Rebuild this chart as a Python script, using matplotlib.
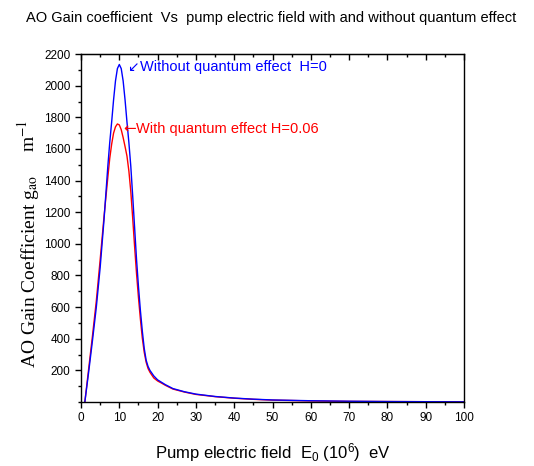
import matplotlib
matplotlib.use("Agg")
import matplotlib.pyplot as plt
from matplotlib.ticker import MultipleLocator

plt.rcParams['font.family'] = ['Liberation Sans', 'DejaVu Sans']
plt.rcParams['mathtext.fontset'] = 'custom'
plt.rcParams['mathtext.rm'] = 'Liberation Sans'
plt.rcParams['mathtext.it'] = 'Liberation Sans:italic'

# pump field E0 (1e6) and gain values
E_blue = [1, 2, 3, 4, 5, 6, 7, 7.5, 8, 8.5, 9, 9.5, 10, 10.5, 11, 11.5, 12,
          12.5, 13, 13.5, 14, 14.5, 15, 15.5, 16, 16.5, 17, 17.5, 18, 19, 20,
          21, 22, 24, 27, 30, 35, 40, 45, 50, 60, 70, 80, 90, 100]
g_blue = [0, 190, 390, 600, 850, 1150, 1490, 1640, 1770, 1910, 2030, 2108,
          2134, 2108, 2030, 1910, 1770, 1640, 1490, 1300, 1100, 900, 730, 580,
          450, 340, 265, 225, 200, 165, 140, 125, 110, 85, 65, 50, 35, 25, 18,
          13, 8, 5, 3, 2, 1]

E_red = [1, 2, 3, 4, 5, 6, 7, 7.5, 8, 8.5, 9, 9.5, 10, 10.5, 11, 11.5, 12,
         12.5, 13, 13.5, 14, 14.5, 15, 15.5, 16, 16.5, 17, 17.5, 18, 19, 20,
         21, 22, 24, 27, 30, 35, 40, 45, 50, 60, 70, 80, 90, 100]
g_red = [0, 210, 420, 640, 900, 1170, 1420, 1540, 1630, 1700, 1740, 1758,
         1752, 1722, 1672, 1615, 1555, 1460, 1330, 1160, 980, 810, 660, 525,
         405, 315, 252, 212, 188, 152, 133, 120, 106, 82, 63, 48, 34, 24, 17,
         12, 7, 4, 3, 2, 1]

fig = plt.figure(figsize=(5.34, 4.66), dpi=100)
ax = fig.add_axes([0.1517, 0.1373, 0.7173, 0.7467])

ax.plot(E_red, g_red, color='red', lw=1.0)
ax.plot(E_blue, g_blue, color='blue', lw=1.0)

ax.set_xlim(0, 100)
ax.set_ylim(0, 2200)
ax.xaxis.set_major_locator(MultipleLocator(10))
ax.xaxis.set_minor_locator(MultipleLocator(5))
ax.yaxis.set_minor_locator(MultipleLocator(100))
ax.set_yticks(range(200, 2201, 200))
ax.tick_params(axis='both', which='major', direction='out', length=4,
               width=1, labelsize=8.5, top=False, right=False)
ax.tick_params(axis='both', which='minor', direction='out', length=2.5,
               width=1, top=False, right=False)
for s in ax.spines.values():
    s.set_linewidth(1.0)

# inward ticks along the top edge
top = ax.secondary_xaxis('top')
top.set_xticks(range(0, 101, 10))
top.xaxis.set_minor_locator(MultipleLocator(5))
top.tick_params(which='major', direction='in', length=4, width=1,
                labeltop=False)
top.tick_params(which='minor', direction='in', length=2.5, width=1)

# curve labels with arrows
ax.text(11.9, 2121, '\u2199', color='blue', fontsize=10, va='center',
        ha='left', family='DejaVu Sans')
ax.text(15.4, 2121, 'Without quantum effect  H=0', color='blue',
        fontsize=10.5, va='center', ha='left')
ax.text(11.1, 1728, '\u2190', color='red', fontsize=11, va='center',
        ha='left', family='DejaVu Sans')
ax.text(14.3, 1728, 'With quantum effect H=0.06', color='red',
        fontsize=10.5, va='center', ha='left')

fig.text(0.508, 0.962, 'AO Gain coefficient  Vs  pump electric field with and without quantum effect',
         ha='center', va='center', fontsize=10.5)
ax.set_xlabel(r'Pump electric field  E$_0$ (10$^6$)  eV', fontsize=12,
              labelpad=12)
fig.text(0.057, 1 - 368 / 466, r'AO Gain Coefficient g$_{\mathrm{ao}}$',
         rotation=90, ha='center', va='bottom', fontsize=14,
         family='Liberation Serif', math_fontfamily='stix')
fig.text(0.052, 1 - 152 / 466, r'm$^{\mathrm{-1}}$',
         rotation=90, ha='center', va='bottom', fontsize=14,
         family='Liberation Serif', math_fontfamily='stix')

fig.savefig('out.png', dpi=100)
